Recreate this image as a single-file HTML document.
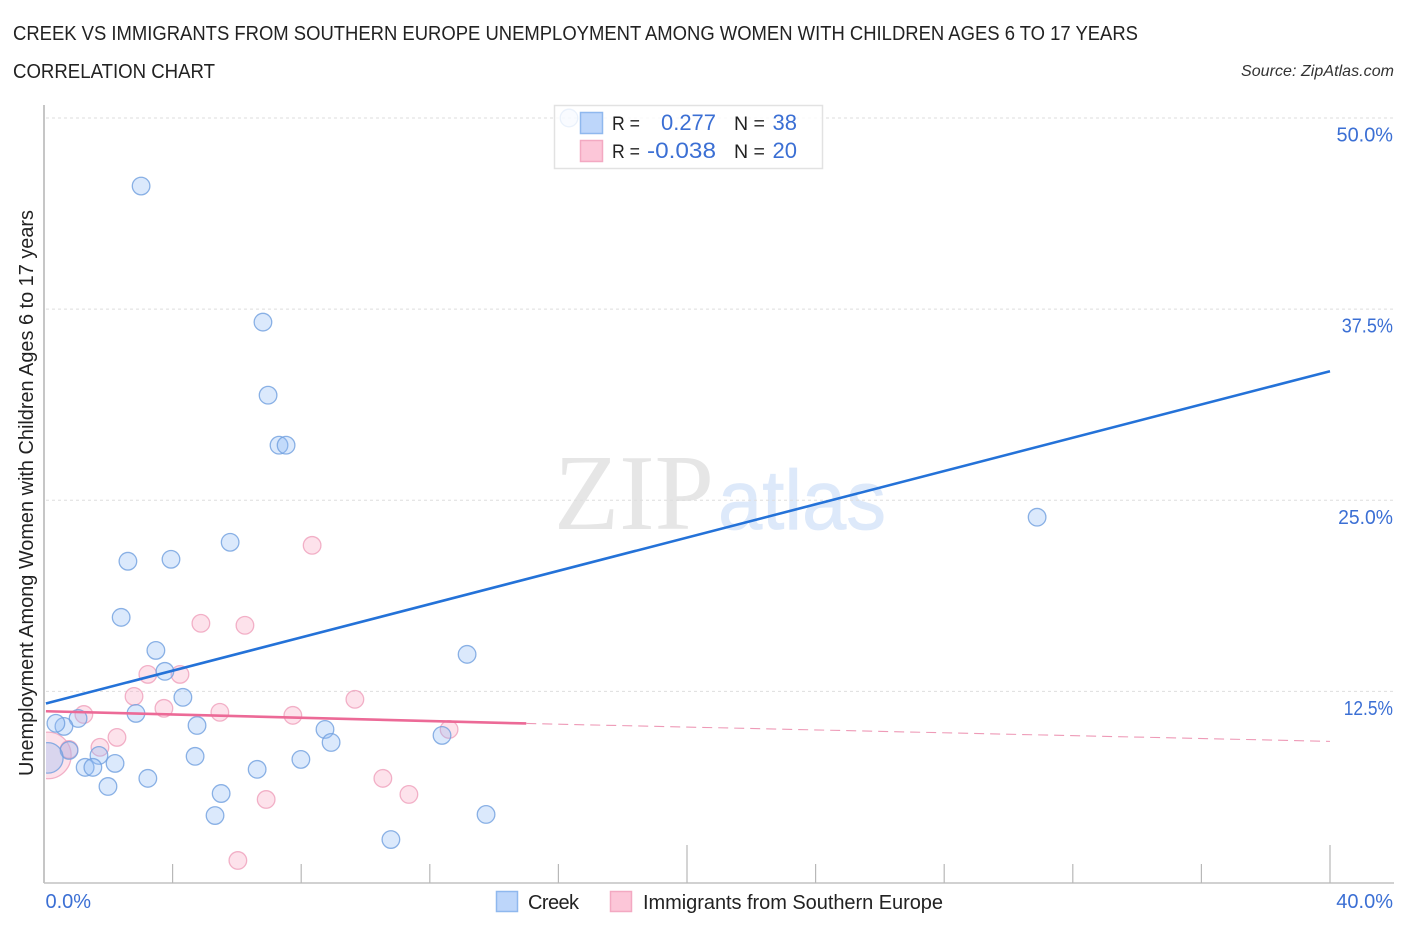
<!DOCTYPE html>
<html>
<head>
<meta charset="utf-8">
<title>Creek vs Immigrants from Southern Europe correlation chart</title>
<style>
html,body{margin:0;padding:0;background:#fff;}
body{width:1406px;height:930px;overflow:hidden;}
svg{display:block;font-family:"Liberation Sans",sans-serif;}
</style>
</head>
<body>
<svg id="chart" width="1406" height="930" viewBox="0 0 1406 930" xmlns="http://www.w3.org/2000/svg">
  <defs><clipPath id="plot-clip"><rect x="46" y="100" width="1300" height="783"/></clipPath></defs>
  <text x="13" y="40" font-size="20" fill="#222" textLength="1125" lengthAdjust="spacingAndGlyphs">CREEK VS IMMIGRANTS FROM SOUTHERN EUROPE UNEMPLOYMENT AMONG WOMEN WITH CHILDREN AGES 6 TO 17 YEARS</text>
  <text x="13" y="78" font-size="20" fill="#222" textLength="202" lengthAdjust="spacingAndGlyphs">CORRELATION CHART</text>
  <text x="1241" y="76" font-size="16" font-style="italic" fill="#333" textLength="153" lengthAdjust="spacing">Source: ZipAtlas.com</text>

  <text x="554" y="529" font-family="'Liberation Serif',serif" font-size="108" fill="#e6e6e6" textLength="160" lengthAdjust="spacingAndGlyphs">ZIP</text>
  <text x="718" y="529" font-size="84" fill="#dde9fa" stroke="#dde9fa" stroke-width="0.8" textLength="168" lengthAdjust="spacingAndGlyphs">atlas</text>

  <g id="grid"></g>
  <g id="axes"></g>
  <g id="points" clip-path="url(#plot-clip)"></g>
  <g id="trends"></g>
  <g id="tick-labels"></g>

  <text transform="translate(33,776) rotate(-90)" font-size="20" fill="#222" textLength="566" lengthAdjust="spacingAndGlyphs">Unemployment Among Women with Children Ages 6 to 17 years</text>

  <g>
    <rect x="554.5" y="105.5" width="268" height="63" fill="#fff" fill-opacity="0.82" stroke="#e2e2e2" stroke-width="1.5"/>
    <rect x="580.5" y="112.5" width="22" height="21" fill="#bdd6fa" stroke="#8fb8ee" stroke-width="1.5"/>
    <rect x="580.5" y="140.5" width="22" height="21" fill="#fcc6d8" stroke="#f3a9c2" stroke-width="1.5"/>
    <text x="612" y="130" font-size="19" fill="#222" textLength="28" lengthAdjust="spacingAndGlyphs">R =</text>
    <text x="661" y="130" font-size="22" fill="#3b6fd4" textLength="55" lengthAdjust="spacingAndGlyphs">0.277</text>
    <text x="734" y="130" font-size="19" fill="#222" textLength="31" lengthAdjust="spacingAndGlyphs">N =</text>
    <text x="797" y="130" font-size="22" fill="#3b6fd4" text-anchor="end">38</text>
    <text x="612" y="158" font-size="19" fill="#222" textLength="28" lengthAdjust="spacingAndGlyphs">R =</text>
    <text x="647" y="158" font-size="22" fill="#3b6fd4" textLength="69" lengthAdjust="spacingAndGlyphs">-0.038</text>
    <text x="734" y="158" font-size="19" fill="#222" textLength="31" lengthAdjust="spacingAndGlyphs">N =</text>
    <text x="797" y="158" font-size="22" fill="#3b6fd4" text-anchor="end">20</text>
  </g>

  <g>
    <rect x="496.5" y="891.5" width="21" height="20" fill="#bdd6fa" stroke="#8fb8ee" stroke-width="1.5"/>
    <text x="528" y="909" font-size="20" fill="#222" textLength="51" lengthAdjust="spacing">Creek</text>
    <rect x="610.5" y="891.5" width="21" height="20" fill="#fcc6d8" stroke="#f3a9c2" stroke-width="1.5"/>
    <text x="643" y="909" font-size="20" fill="#222" textLength="300" lengthAdjust="spacing">Immigrants from Southern Europe</text>
  </g>
</svg>
<script>
// Chart data (percent values)
const creekX = [16.33,3.02,6.81,6.97,7.31,7.53,5.79,3.95,2.61,2.40,3.48,3.76,4.32,2.86,4.76,1.06,0.62,0.37,8.74,8.93,12.38,13.16,30.89,0.78,1.71,4.70,7.99,2.21,1.28,1.52,6.63,3.23,1.99,5.51,5.32,13.75,10.79,0.12];
const creekY = [50.0,45.55,36.65,31.87,28.6,28.6,22.25,21.14,21.01,17.34,15.18,13.81,12.11,11.06,10.27,10.73,10.21,10.41,10.01,9.16,9.62,14.92,23.89,8.64,8.31,8.25,8.05,7.79,7.53,7.53,7.40,6.81,6.28,5.82,4.38,4.45,2.81,8.15];
const creekWeight = [1,1,1,1,1,1,1,1,1,1,1,1,1,1,1,1,1,1,1,1,1,1,1,1,1,1,1,1,1,1,1,1,1,1,1,1,1,3];
const immigrantsX = [0.12,8.34,4.88,6.25,3.23,4.23,2.80,3.73,5.47,7.74,9.67,1.24,12.60,2.27,1.74,0.78,10.54,11.35,6.91,6.03];
const immigrantsY = [8.31,22.05,16.95,16.82,13.61,13.61,12.17,11.39,11.13,10.93,11.98,10.99,10.01,9.49,8.84,8.70,6.81,5.76,5.43,1.44];
const immigrantsWeight = [7,1,1,1,1,1,1,1,1,1,1,1,1,1,1,1,1,1,1,1];
const creekTrendX = [0.06,40];
const creekTrendY = [11.71,33.44];
const immigrantsSolidX = [0.06,15];
const immigrantsSolidY = [11.2,10.4];
const immigrantsDashX = [15,40];
const immigrantsDashY = [10.4,9.23];
const yTicks = [12.5,25,37.5,50];
const yTickLabels = ['12.5%','25.0%','37.5%','50.0%'];
const xTicks = [4,8,12,16,20,24,28,32,36,40];
const xMajorTicks = [20,40];
const xEndTicks = [0,40];
const xEndLabels = ['0.0%','40.0%'];

const NS = 'http://www.w3.org/2000/svg';
const xScale = v => 44 + v * 32.15;
const yScale = v => 882.5 - v * 15.29;
const radius = w => 8.8 * Math.sqrt(w);
// Rendered label widths differ per string in the reference typeface
const countOf = (s, re) => (s.match(re) || []).length;
const labelWidth = s => 53.3 - countOf(s, /1/g) * 4 - countOf(s, /7/g) * 2 + countOf(s, /0/g) * 1.6;

function make(tag, parent, attrs) {
  const el = document.createElementNS(NS, tag);
  for (const k in attrs) el.setAttribute(k, attrs[k]);
  document.getElementById(parent).appendChild(el);
  return el;
}

yTicks.forEach((t, i) => {
  const line = make('line', 'grid', {x1: 46, x2: 1394, y1: yScale(t), y2: yScale(t), stroke: '#dedede', 'stroke-width': 1, 'stroke-dasharray': '3 3'});
  
  
  const w = labelWidth(yTickLabels[i]);
  const label = make('text', 'tick-labels', {x: 1393 - w, y: yScale(t) + 23.5, 'font-size': 20, fill: '#3b6fd4', textLength: w, lengthAdjust: 'spacingAndGlyphs'});
  label.textContent = yTickLabels[i];
  
  
});

const yAxis = make('line', 'axes', {x1: 44, x2: 44, y1: 105, y2: 883, stroke: '#b4b4b4', 'stroke-width': 1.5});


const xAxis = make('line', 'axes', {x1: 44, x2: 1394, y1: 883, y2: 883, stroke: '#c2c2c2', 'stroke-width': 1.5});



xTicks.forEach(t => {
  const top = xMajorTicks.includes(t) ? 845 : 864;
  const tick = make('line', 'axes', {x1: xScale(t), x2: xScale(t), y1: top, y2: 883, stroke: '#b8b8b8', 'stroke-width': 1.2});
  
  
});

xEndTicks.forEach((t, i) => {
  const label = make('text', 'tick-labels', {x: i === 0 ? xScale(t) + 1.5 : 1393, y: 908, 'text-anchor': i === 0 ? 'start' : 'end', 'font-size': 20, fill: '#3b6fd4'});
  label.textContent = xEndLabels[i];
  
  
});

immigrantsX.forEach((x, i) => {
  const c = make('circle', 'points', {cx: xScale(x), cy: yScale(immigrantsY[i]), r: radius(immigrantsWeight[i]), fill: '#f9a9c4', 'fill-opacity': 0.34, stroke: '#ee9ab7', 'stroke-opacity': 0.75, 'stroke-width': 1.3});
  
  
});
creekX.forEach((x, i) => {
  const c = make('circle', 'points', {cx: xScale(x), cy: yScale(creekY[i]), r: radius(creekWeight[i]), fill: '#8fbcf5', 'fill-opacity': 0.32, stroke: '#6f9fdf', 'stroke-opacity': 0.8, 'stroke-width': 1.3});
  
  
});

const creekLine = make('line', 'trends', {x1: xScale(creekTrendX[0]), y1: yScale(creekTrendY[0]), x2: xScale(creekTrendX[1]), y2: yScale(creekTrendY[1]), stroke: '#2472d8', 'stroke-width': 2.6});


const immSolid = make('line', 'trends', {x1: xScale(immigrantsSolidX[0]), y1: yScale(immigrantsSolidY[0]), x2: xScale(immigrantsSolidX[1]), y2: yScale(immigrantsSolidY[1]), stroke: '#ec6a97', 'stroke-width': 2.6});


const immDash = make('line', 'trends', {x1: xScale(immigrantsDashX[0]), y1: yScale(immigrantsDashY[0]), x2: xScale(immigrantsDashX[1]), y2: yScale(immigrantsDashY[1]), stroke: '#ee9ab7', 'stroke-width': 1.1, 'stroke-dasharray': '10 6'});


</script>
</body>
</html>
